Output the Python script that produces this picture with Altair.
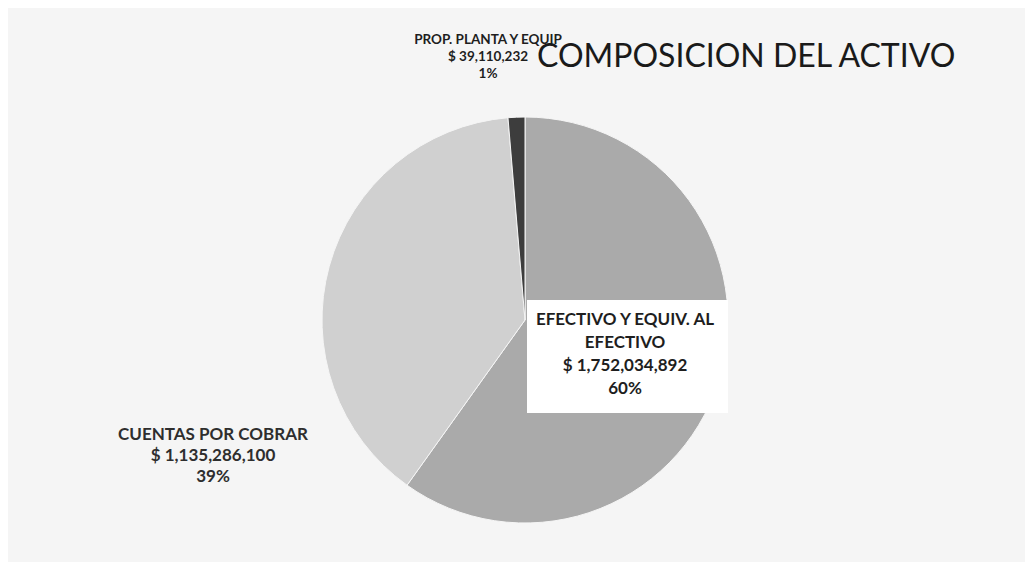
import altair as alt
import pandas as pd

categories = ["EFECTIVO Y EQUIV. AL\nEFECTIVO", "CUENTAS POR COBRAR", "PROP. PLANTA Y EQUIP"]
keys = ["efectivo", "cuentas", "prop"]
values = [1752034892, 1135286100, 39110232]
percents = ["60%", "39%", "1%"]
colors = ["#aaaaaa", "#d0d0d0", "#3d3d3d"]
title_text = "COMPOSICION DEL ACTIVO"

df = pd.DataFrame({
    "key": keys,
    "categoria": categories,
    "valor": values,
    "pct": percents,
    "orden": list(range(len(keys))),
})
df["label"] = df["categoria"] + "\n$ " + df["valor"].map(lambda v: f"{v:,}") + "\n" + df["pct"]

W, H = 1017, 554
base = alt.Chart(df)

pie = base.mark_arc(stroke="#f5f5f5", strokeWidth=1).encode(
    theta=alt.Theta("valor:Q", stack=True),
    order=alt.Order("orden:Q"),
    color=alt.Color("key:N", scale=alt.Scale(domain=keys, range=colors), legend=None),
    x=alt.value(517),
    y=alt.value(312),
    radius=alt.value(203),
)

box = base.transform_filter(alt.datum.key == "efectivo").mark_rect(color="white").encode(
    x=alt.value(519), x2=alt.value(720), y=alt.value(292), y2=alt.value(405)
)

def label(key, x, y, size, lh, color="#1e1e1e"):
    return base.transform_filter(alt.datum.key == key).mark_text(
        font="Lato", fontWeight="bold", fontSize=size, lineBreak="\n", lineHeight=lh,
        align="center", baseline="middle", color=color,
    ).encode(text="label:N", x=alt.value(x), y=alt.value(y))

lab_ef = label("efectivo", 617, 312, 17, 23)
lab_cu = label("cuentas", 205, 427, 17, 21, "#2e2e2e")
lab_pr = label("prop", 480, 32, 13.5, 17)

title = base.transform_filter(alt.datum.key == "efectivo").mark_text(
    font="Lato", fontSize=32, align="left", baseline="middle", color="#1a1a1a"
).encode(text=alt.value(title_text), x=alt.value(529), y=alt.value(49))

chart = alt.layer(pie, box, lab_ef, lab_cu, lab_pr, title).properties(
    width=W, height=H, padding=0, background="#f5f5f5", autosize="none"
).configure_view(stroke=None)

chart.save("out.html", embed_options={"renderer": "svg", "actions": False})
